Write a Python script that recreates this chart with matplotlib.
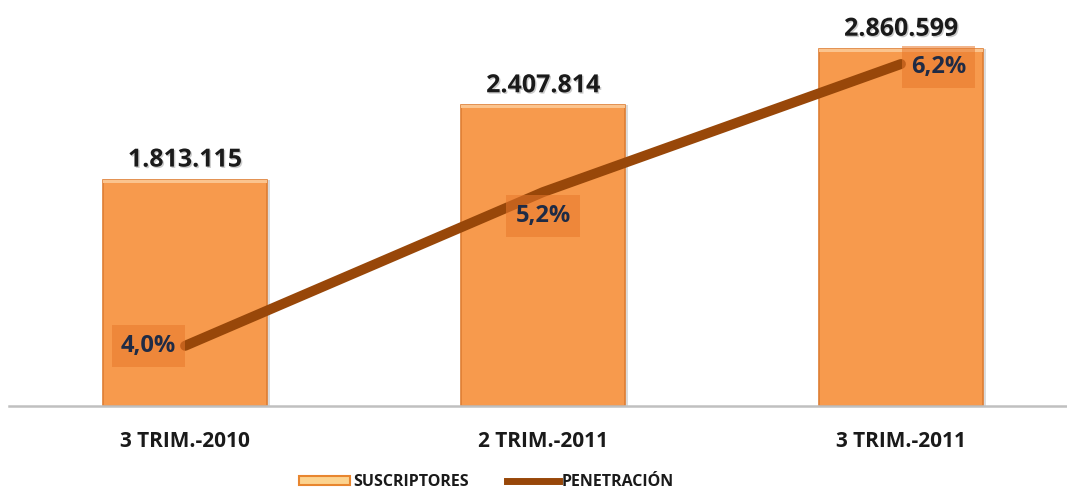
import matplotlib
matplotlib.use("Agg")
import matplotlib.pyplot as plt
from matplotlib.patches import Patch
from matplotlib.lines import Line2D
import matplotlib.patheffects as pe

# ---- data ----
categories = ["3 TRIM.-2010", "2 TRIM.-2011", "3 TRIM.-2011"]
suscriptores = [1813115, 2407814, 2860599]
suscriptores_labels = ["1.813.115", "2.407.814", "2.860.599"]
penetracion = [4.0, 5.2, 6.2]
penetracion_labels = ["4,0%", "5,2%", "6,2%"]
legend_labels = ["SUSCRIPTORES", "PENETRACIÓN"]

FONT = ["Open Sans", "DejaVu Sans"]
plt.rcParams["font.family"] = FONT

bar_color = "#F79A4D"
bar_edge = "#DE7E33"
line_color = "#984709"
text_dark = "#1A1A1A"
pct_text = "#1F2B45"

fig = plt.figure(figsize=(10.67, 4.91), dpi=100)
ax = fig.add_axes([9 / 1067, 1 - 406 / 491, (1067 - 9) / 1067, 406 / 491])
x = list(range(len(categories)))

bw = 0.458
# shadow
ax.bar([i + 0.008 for i in x], suscriptores, width=bw, color="#B0B0B0", alpha=0.45,
       zorder=1)
bars = ax.bar(x, suscriptores, width=bw, color=bar_color, edgecolor=bar_edge,
              linewidth=1.2, zorder=2)
# light bevel at top of bars
ax.bar(x, [25000 for v in suscriptores], bottom=[v - 25000 for v in suscriptores],
       width=bw, color="#FBC48E", edgecolor="none", zorder=3)

ax.set_xlim(-0.492, 2.464)
ax.set_ylim(0, 3.25e6)

for i, (v, lab) in enumerate(zip(suscriptores, suscriptores_labels)):
    ax.annotate(lab, (i, v), xytext=(0, 5), textcoords="offset points",
                ha="center", va="bottom", fontsize=18, fontweight="bold",
                color=text_dark,
                path_effects=[pe.withSimplePatchShadow(offset=(1, -1), shadow_rgbFace="#9A9A9A", alpha=0.5)])

ax.set_xticks(x)
ax.set_xticklabels(categories, fontsize=15, fontweight="bold", color=text_dark)
ax.tick_params(axis="x", length=0, pad=18)
ax.set_yticks([])
for s in ["top", "left", "right"]:
    ax.spines[s].set_visible(False)
ax.spines["bottom"].set_color("#C0C0C0")
ax.spines["bottom"].set_linewidth(1.8)

ax2 = ax.twinx()
ax2.plot(x, penetracion, color=line_color, linewidth=7.2, solid_capstyle="round", zorder=4)
ax2.set_ylim(3.53, 6.70)
ax2.set_yticks([])
for s in ax2.spines.values():
    s.set_visible(False)

offsets = [(-26.5, 0), (0, -17), (27, -2)]
for i, (v, lab, off) in enumerate(zip(penetracion, penetracion_labels, offsets)):
    ax2.annotate(lab, (i, v), xytext=off, textcoords="offset points",
                 ha="center", va="center", fontsize=17, fontweight="bold",
                 color=pct_text, zorder=6,
                 bbox=dict(boxstyle="square,pad=0.38", facecolor="#E8782C",
                           edgecolor="none", alpha=0.55))

handles = [Patch(facecolor="#FCD38F", edgecolor="#E8862F", linewidth=1.5),
           Line2D([0], [0], color=line_color, linewidth=5)]
fig.legend(handles, legend_labels, loc="center", bbox_to_anchor=(0.456, 0.018),
           ncol=2, frameon=False, handlelength=3.2, handleheight=0.5,
           handletextpad=0.2, columnspacing=2.4,
           prop={"family": FONT, "weight": "bold", "size": 11.5})
for t in fig.legends[0].get_texts():
    t.set_color(text_dark)

fig.savefig("out.png", dpi=100)
